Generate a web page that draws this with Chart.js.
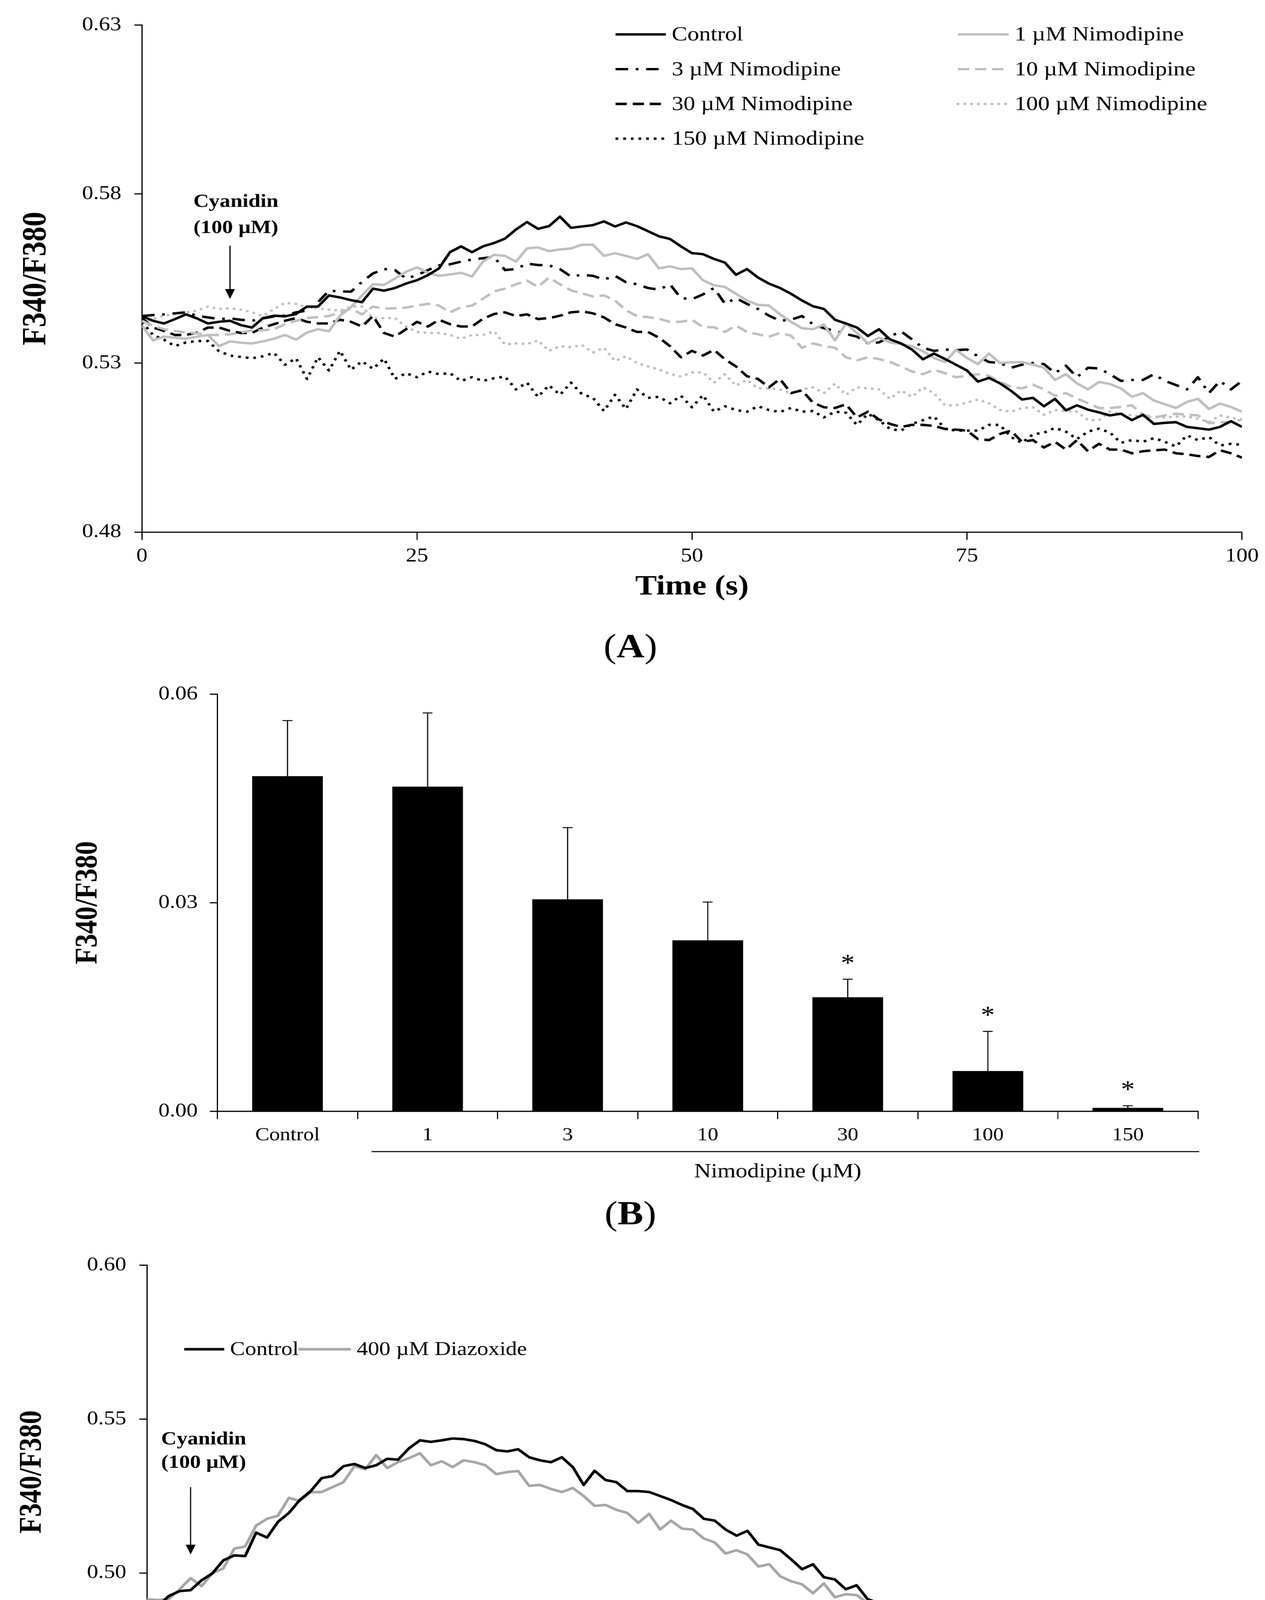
<!DOCTYPE html>
<html>
<head>
<meta charset="utf-8">
<script src="https://cdn.jsdelivr.net/npm/chart.js@4.4.1/dist/chart.umd.min.js"></script>
<style>
  html, body { margin: 0; padding: 0; background: #fff; }
  body { width: 3238px; height: 4792px; overflow: hidden; position: relative; }
  /* the original figure is stretched horizontally, so draw narrower and stretch */
  #wrap { position: absolute; left: 0; top: 0; width: 2816px; height: 4792px;
          transform: scaleX(1.15); transform-origin: 0 0; }
  canvas { position: absolute; left: 0; }
</style>
</head>
<body>
<div id="wrap">
  <canvas id="chartA" width="2816" height="1720" style="top:0px"></canvas>
  <canvas id="chartB" width="2816" height="1460" style="top:1720px"></canvas>
  <canvas id="chartC" width="2816" height="1612" style="top:3180px"></canvas>
</div>
<script>
// ---------- data : panel A (F340/F380 per second, 0..100 s) ----------
const timeA = Array.from({ length: 101 }, (_, i) => i);
const controlA = [
  .5439,.5425,.5417,.5430,.5444,.5432,.5417,.5422,.5425,.5412,
  .5405,.5433,.5440,.5438,.5445,.5467,.5467,.5500,.5494,.5486,
  .5480,.5520,.5514,.5522,.5535,.5545,.5560,.5580,.5628,.5645,
  .5628,.5645,.5655,.5668,.5695,.5717,.5697,.5705,.5733,.5700,
  .5704,.5708,.5719,.5704,.5716,.5705,.5690,.5675,.5667,.5645,
  .5625,.5622,.5608,.5597,.5561,.5578,.5553,.5535,.5522,.5505,
  .5485,.5468,.5460,.5428,.5417,.5405,.5380,.5400,.5370,.5358,
  .5340,.5311,.5328,.5312,.5295,.5278,.5245,.5256,.5240,.5218,
  .5192,.5197,.5172,.5194,.5160,.5175,.5162,.5154,.5145,.5150,
  .5131,.5147,.5120,.5123,.5125,.5111,.5107,.5103,.5111,.5128,.5111];
const nim1A = [
  .5411,.5367,.5378,.5375,.5372,.5378,.5383,.5350,.5364,.5360,
  .5358,.5364,.5372,.5383,.5369,.5390,.5400,.5394,.5440,.5465,
  .5500,.5533,.5531,.5550,.5570,.5583,.5567,.5558,.5562,.5567,
  .5556,.5600,.5620,.5617,.5600,.5639,.5642,.5631,.5636,.5639,
  .5650,.5650,.5617,.5625,.5617,.5608,.5622,.5580,.5586,.5578,
  .5580,.5545,.5530,.5525,.5505,.5485,.5472,.5470,.5444,.5422,
  .5403,.5400,.5414,.5367,.5417,.5389,.5358,.5375,.5361,.5356,
  .5350,.5335,.5315,.5303,.5339,.5315,.5297,.5328,.5300,.5302,
  .5303,.5295,.5286,.5250,.5267,.5240,.5222,.5244,.5238,.5225,
  .5200,.5211,.5189,.5178,.5167,.5185,.5194,.5164,.5180,.5170,.5156];
const nim3A = [
  .5439,.5442,.5444,.5447,.5450,.5440,.5435,.5430,.5432,.5428,
  .5425,.5432,.5438,.5440,.5450,.5455,.5480,.5514,.5512,.5511,
  .5540,.5565,.5578,.5575,.5550,.5560,.5575,.5589,.5592,.5600,
  .5606,.5610,.5614,.5575,.5578,.5594,.5590,.5589,.5578,.5556,
  .5561,.5558,.5547,.5558,.5539,.5533,.5522,.5517,.5533,.5492,
  .5489,.5503,.5522,.5475,.5492,.5475,.5460,.5440,.5425,.5428,
  .5439,.5415,.5403,.5395,.5386,.5378,.5358,.5361,.5378,.5394,
  .5370,.5345,.5336,.5340,.5338,.5340,.5320,.5303,.5300,.5286,
  .5295,.5300,.5297,.5270,.5292,.5258,.5286,.5284,.5267,.5247,
  .5250,.5250,.5267,.5247,.5235,.5222,.5258,.5211,.5247,.5222,.5247];
const nim10A = [
  .5425,.5410,.5400,.5395,.5390,.5388,.5383,.5383,.5385,.5390,
  .5397,.5397,.5400,.5415,.5425,.5433,.5436,.5439,.5450,.5461,
  .5444,.5467,.5461,.5462,.5464,.5470,.5475,.5470,.5450,.5465,
  .5470,.5490,.5512,.5520,.5533,.5544,.5525,.5553,.5533,.5515,
  .5506,.5497,.5500,.5485,.5456,.5439,.5436,.5431,.5422,.5422,
  .5428,.5406,.5406,.5392,.5411,.5392,.5385,.5378,.5389,.5381,
  .5345,.5358,.5350,.5345,.5317,.5308,.5317,.5312,.5303,.5290,
  .5275,.5267,.5280,.5270,.5258,.5262,.5267,.5262,.5244,.5230,
  .5225,.5236,.5222,.5203,.5211,.5195,.5181,.5167,.5167,.5170,
  .5175,.5147,.5139,.5145,.5150,.5147,.5145,.5122,.5125,.5125,.5133];
const nim30A = [
  .5433,.5405,.5395,.5383,.5383,.5390,.5405,.5405,.5395,.5389,
  .5389,.5405,.5415,.5425,.5433,.5422,.5417,.5417,.5428,.5422,
  .5408,.5439,.5389,.5378,.5400,.5422,.5408,.5428,.5415,.5408,
  .5408,.5431,.5445,.5450,.5439,.5444,.5430,.5433,.5440,.5450,
  .5453,.5447,.5435,.5415,.5405,.5392,.5392,.5375,.5350,.5317,
  .5336,.5322,.5339,.5311,.5290,.5261,.5253,.5228,.5253,.5211,
  .5219,.5183,.5169,.5167,.5178,.5139,.5156,.5133,.5120,.5111,
  .5117,.5117,.5114,.5105,.5103,.5100,.5075,.5072,.5090,.5100,
  .5067,.5072,.5050,.5067,.5044,.5072,.5039,.5061,.5044,.5044,
  .5033,.5039,.5042,.5044,.5033,.5030,.5025,.5022,.5042,.5033,.5020];
const nim100A = [
  .5422,.5430,.5440,.5445,.5450,.5455,.5467,.5460,.5462,.5458,
  .5450,.5439,.5460,.5478,.5475,.5465,.5461,.5458,.5455,.5467,
  .5467,.5433,.5433,.5433,.5408,.5392,.5389,.5389,.5383,.5372,
  .5383,.5383,.5394,.5355,.5358,.5356,.5367,.5336,.5350,.5347,
  .5353,.5331,.5345,.5306,.5320,.5300,.5290,.5281,.5268,.5260,
  .5272,.5272,.5242,.5267,.5233,.5250,.5225,.5225,.5222,.5211,
  .5222,.5228,.5211,.5239,.5206,.5228,.5225,.5222,.5194,.5219,
  .5200,.5228,.5211,.5175,.5175,.5183,.5192,.5181,.5161,.5156,
  .5167,.5169,.5147,.5161,.5158,.5156,.5131,.5131,.5156,.5150,
  .5145,.5142,.5139,.5139,.5142,.5142,.5135,.5125,.5145,.5138,.5133];
const nim150A = [
  .5422,.5383,.5369,.5350,.5361,.5365,.5365,.5335,.5322,.5318,
  .5314,.5320,.5330,.5295,.5314,.5253,.5317,.5278,.5336,.5280,
  .5305,.5283,.5313,.5253,.5270,.5258,.5275,.5267,.5270,.5247,
  .5258,.5247,.5255,.5260,.5222,.5242,.5200,.5234,.5206,.5242,
  .5208,.5197,.5158,.5206,.5164,.5222,.5197,.5200,.5181,.5203,
  .5169,.5205,.5156,.5172,.5161,.5156,.5172,.5161,.5155,.5167,
  .5156,.5158,.5139,.5156,.5153,.5117,.5150,.5131,.5105,.5100,
  .5120,.5131,.5142,.5106,.5100,.5100,.5100,.5117,.5117,.5081,
  .5064,.5089,.5094,.5108,.5097,.5075,.5097,.5106,.5094,.5064,
  .5072,.5067,.5078,.5067,.5053,.5086,.5072,.5081,.5056,.5061,.5058];

// ---------- data : panel B (peak response, mean and SEM) ----------
const doseLabels = ['Control', '1', '3', '10', '30', '100', '150'];
const peakMean = [0.0482, 0.0467, 0.0305, 0.0246, 0.0164, 0.0058, 0.0005];
const peakSem  = [0.0080, 0.0106, 0.0103, 0.0055, 0.0026, 0.0057, 0.0003];
const peakSig  = [false, false, false, false, true, true, true];

// ---------- data : panel C ----------
const timeC = Array.from({ length: 101 }, (_, i) => i);
const controlC = [
  0.4908,0.4892,0.4925,0.4941,0.4944,0.4976,0.4999,0.5041,0.5057,0.5055,
  0.5131,0.5115,0.5166,0.5195,0.5237,0.5266,0.5308,0.5315,0.5347,0.5354,
  0.5341,0.5350,0.5371,0.5368,0.5405,0.5431,0.5426,0.5431,0.5437,0.5435,
  0.5429,0.5418,0.5399,0.5395,0.5402,0.5376,0.5366,0.5360,0.5376,0.5344,
  0.5286,0.5332,0.5302,0.5295,0.5266,0.5266,0.5263,0.5250,0.5237,0.5221,
  0.5208,0.5176,0.5170,0.5141,0.5121,0.5137,0.5092,0.5083,0.5074,0.5044,
  0.5012,0.5028,0.4986,0.4979,0.4947,0.4960,0.4915,0.4902,0.4889,0.4879,
  0.4870,0.4854,0.4837,0.4829,0.4837,0.4825,0.4789,0.4792,0.4805,0.4797,
  0.4795,0.4788,0.4773,0.4770,0.4760,0.4744,0.4734,0.4725,0.4715,0.4741,
  0.4739,0.4741,0.4695,0.4726,0.4713,0.4712,0.4692,0.4689,0.4704];
const diazoxideC = [
  0.4915,0.4912,0.4915,0.4947,0.4983,0.4957,0.4999,0.5015,0.5079,0.5086,
  0.5154,0.5176,0.5186,0.5244,0.5234,0.5263,0.5263,0.5279,0.5295,0.5347,
  0.5337,0.5383,0.5341,0.5360,0.5373,0.5389,0.5350,0.5363,0.5344,0.5366,
  0.5360,0.5350,0.5321,0.5328,0.5331,0.5283,0.5286,0.5273,0.5263,0.5276,
  0.5250,0.5218,0.5221,0.5205,0.5195,0.5163,0.5192,0.5141,0.5170,0.5144,
  0.5141,0.5112,0.5099,0.5063,0.5074,0.5060,0.5021,0.5028,0.4989,0.4973,
  0.4963,0.4934,0.4966,0.4921,0.4931,0.4928,0.4902,0.4889,0.4883,0.4837,
  0.4876,0.4841,0.4825,0.4844,0.4818,0.4821,0.4773,0.4795,0.4763,0.4770,
  0.4773,0.4744,0.4741,0.4754,0.4728,0.4737,0.4721,0.4708,0.4731,0.4712,
  0.4715,0.4676,0.4699,0.4673,0.4695,0.4689,0.4657,0.4686,0.4676,0.4666,
  0.4631];

// ---------- ticks ----------
const timeTicks = [0, 25, 50, 75, 100];
const yTicksA = [0.48, 0.53, 0.58, 0.63];
const yTicksB = [0.00, 0.03, 0.06];
const yTicksC = [0.45, 0.50, 0.55, 0.60];

// ---------- helpers ----------
const SERIF = "'Liberation Serif', 'Times New Roman', serif";
const GREY_A = '#bfbfbf';
const GREY_C = '#a6a6a6';

function fnt(size, bold) {
  return (bold ? 'bold ' : '') + size + 'px ' + SERIF;
}

function text(ctx, s, x, y, f, align) {
  ctx.save();
  ctx.font = f;
  ctx.fillStyle = '#000';
  ctx.textAlign = align || 'center';
  ctx.textBaseline = 'middle';
  ctx.fillText(s, x, y);
  ctx.restore();
}

function yTitle(ctx, s, x, y, size) {
  ctx.save();
  ctx.translate(x, y);
  ctx.rotate(-Math.PI / 2);
  text(ctx, s, 0, 0, fnt(size, true));
  ctx.restore();
}

// "(A)" with a bold letter
function panelLabel(ctx, letter, x, y) {
  ctx.save();
  ctx.fillStyle = '#000';
  ctx.textBaseline = 'middle';
  ctx.textAlign = 'left';
  ctx.font = fnt(86, false);
  const wo = ctx.measureText('(').width;
  const wc = ctx.measureText(')').width;
  ctx.font = fnt(86, true);
  const wl = ctx.measureText(letter).width;
  let x0 = x - (wo + wl + wc) / 2;
  ctx.font = fnt(86, false);
  ctx.fillText('(', x0, y);
  ctx.font = fnt(86, true);
  ctx.fillText(letter, x0 + wo, y);
  ctx.font = fnt(86, false);
  ctx.fillText(')', x0 + wo + wl, y);
  ctx.restore();
}

function arrowDown(ctx, x, y0, y1) {
  ctx.save();
  ctx.strokeStyle = '#000';
  ctx.fillStyle = '#000';
  ctx.lineWidth = 2.6;
  ctx.beginPath();
  ctx.moveTo(x, y0);
  ctx.lineTo(x, y1 - 20);
  ctx.stroke();
  ctx.beginPath();
  ctx.moveTo(x - 11, y1 - 25);
  ctx.lineTo(x + 11, y1 - 25);
  ctx.lineTo(x, y1);
  ctx.closePath();
  ctx.fill();
  ctx.restore();
}

// cyanidin annotation, anchored on data coordinates
function cyanidin(chart, t, vTop, vBottom, dx, dy1, dy2) {
  const ctx = chart.ctx;
  const x = chart.scales.x.getPixelForValue(t);
  const yTop = chart.scales.y.getPixelForValue(vTop);
  const yBot = chart.scales.y.getPixelForValue(vBottom);
  arrowDown(ctx, x, yTop, yBot);
  text(ctx, 'Cyanidin', x + dx, yTop + dy1, fnt(48, true));
  text(ctx, '(100 \u00b5M)', x + dx, yTop + dy2, fnt(48, true));
}

function legendItem(ctx, ds, x0, x1, y, label, size) {
  ctx.save();
  ctx.strokeStyle = ds.borderColor;
  ctx.lineWidth = ds.borderWidth;
  ctx.setLineDash(ds.borderDash || []);
  ctx.lineCap = ds.borderCapStyle || 'butt';
  ctx.beginPath();
  ctx.moveTo(x0, y);
  ctx.lineTo(x1, y);
  ctx.stroke();
  ctx.restore();
  text(ctx, label, x1 + 13, y + 2, fnt(size, false), 'left');
}

function timeAxes(opt) {
  return {
    x: {
      type: 'linear', min: 0, max: 100,
      afterFit: s => { s.height = opt.xHeight; },
      afterBuildTicks: s => { s.ticks = timeTicks.map(v => ({ value: v })); },
      ticks: { font: { family: SERIF, size: 50 }, color: '#000', padding: 12,
               maxRotation: 0, autoSkip: false, callback: v => String(v) },
      grid: { drawOnChartArea: false, tickLength: 20, color: '#000', lineWidth: 2.6 },
      border: { color: '#000', width: 3 }
    },
    y: {
      type: 'linear', min: opt.min, max: opt.max,
      afterFit: s => { s.width = opt.yWidth; },
      afterBuildTicks: s => { s.ticks = opt.ticks.map(v => ({ value: v })); },
      ticks: { font: { family: SERIF, size: 50 }, color: '#000', padding: 29,
               callback: v => v.toFixed(2) },
      grid: { drawOnChartArea: false, tickLength: 17, color: '#000', lineWidth: 3 },
      border: { color: '#000', width: 2.6 }
    }
  };
}

function lineSet(label, data, color, width, dash, cap) {
  return {
    label: label, data: data,
    borderColor: color, borderWidth: width,
    borderDash: dash || [], borderCapStyle: cap || 'butt',
    borderJoinStyle: 'round',
    pointRadius: 0, tension: 0, fill: false
  };
}

const common = {
  responsive: false,
  devicePixelRatio: 1.15,
  animation: false,
  events: [],
  plugins: { legend: { display: false }, tooltip: { enabled: false } }
};

// ---------- panel A ----------
const dataA = [
  lineSet('Control', controlA, '#000', 6.2),
  lineSet('1 \u00b5M Nimodipine', nim1A, GREY_A, 6.2),
  lineSet('3 \u00b5M Nimodipine', nim3A, '#000', 6.2, [28, 17, 6, 17]),
  lineSet('10 \u00b5M Nimodipine', nim10A, GREY_A, 6.2, [25, 13]),
  lineSet('30 \u00b5M Nimodipine', nim30A, '#000', 6.2, [25, 13]),
  lineSet('100 \u00b5M Nimodipine', nim100A, GREY_A, 6.5, [0.1, 15], 'round'),
  lineSet('150 \u00b5M Nimodipine', nim150A, '#000', 6.2, [6, 11])
];

const legendA = [
  { ds: 0, col: 0, row: 0 }, { ds: 1, col: 1, row: 0 },
  { ds: 2, col: 0, row: 1 }, { ds: 3, col: 1, row: 1 },
  { ds: 4, col: 0, row: 2 }, { ds: 5, col: 1, row: 2 },
  { ds: 6, col: 0, row: 3 }
];

new Chart(document.getElementById('chartA'), {
  type: 'line',
  data: { labels: timeA, datasets: dataA },
  options: Object.assign({}, common, {
    layout: { padding: { left: 0, top: 64, right: 52, bottom: 0 } },
    scales: timeAxes({ min: 0.48, max: 0.63, ticks: yTicksA, yWidth: 316, xHeight: 358 })
  }),
  plugins: [{
    id: 'decorA',
    afterDraw(chart) {
      const ctx = chart.ctx;
      const area = chart.chartArea;
      yTitle(ctx, 'F340/F380', 81, (area.top + area.bottom) / 2, 76);
      text(ctx, 'Time (s)', (area.left + area.right) / 2, 1503, fnt(72, true));
      panelLabel(ctx, 'A', 1403, 1660);
      const cols = [[1370, 1482], [2132, 2245]];
      const rows = [88, 177, 266, 355];
      legendA.forEach(it => {
        const ds = chart.data.datasets[it.ds];
        legendItem(ctx, ds, cols[it.col][0], cols[it.col][1], rows[it.row], ds.label, 52);
      });
      cyanidin(chart, 8, 0.5647, 0.5490, 13, -112, -45);
    }
  }]
});

// ---------- panel B ----------
new Chart(document.getElementById('chartB'), {
  type: 'bar',
  data: {
    labels: doseLabels,
    datasets: [{ data: peakMean, backgroundColor: '#000', borderWidth: 0,
                 barPercentage: 0.505, categoryPercentage: 1 }]
  },
  options: Object.assign({}, common, {
    layout: { padding: { left: 0, top: 47, right: 150, bottom: 0 } },
    scales: {
      x: {
        type: 'category', offset: true,
        afterFit: s => { s.height = 335; },
        ticks: { font: { family: SERIF, size: 47 }, color: '#000', padding: 14, maxRotation: 0 },
        grid: { offset: true, drawOnChartArea: false, tickLength: 20, color: '#000', lineWidth: 2.4 },
        border: { color: '#000', width: 3 }
      },
      y: {
        type: 'linear', min: 0, max: 0.06,
        afterFit: s => { s.width = 484; },
        afterBuildTicks: s => { s.ticks = yTicksB.map(v => ({ value: v })); },
        ticks: { font: { family: SERIF, size: 50 }, color: '#000', padding: 27,
                 callback: v => v.toFixed(2) },
        grid: { drawOnChartArea: false, tickLength: 17, color: '#000', lineWidth: 3 },
        border: { color: '#000', width: 2.6 }
      }
    }
  }),
  plugins: [{
    id: 'decorB',
    afterDatasetsDraw(chart) {
      const ctx = chart.ctx;
      const ys = chart.scales.y;
      const meta = chart.getDatasetMeta(0);
      ctx.save();
      ctx.strokeStyle = '#000';
      ctx.lineWidth = 2.4;
      meta.data.forEach((bar, i) => {
        const yTop = ys.getPixelForValue(peakMean[i] + peakSem[i]);
        ctx.beginPath();
        ctx.moveTo(bar.x, bar.y);
        ctx.lineTo(bar.x, yTop);
        ctx.moveTo(bar.x - 11, yTop);
        ctx.lineTo(bar.x + 11, yTop);
        ctx.stroke();
        if (peakSig[i]) {
          ctx.save();
          ctx.font = fnt(62, false);
          ctx.fillStyle = '#000';
          ctx.textAlign = 'center';
          ctx.textBaseline = 'alphabetic';
          ctx.fillText('*', bar.x, yTop - 22);
          ctx.restore();
        }
      });
      ctx.restore();
    },
    afterDraw(chart) {
      const ctx = chart.ctx;
      const area = chart.chartArea;
      const xs = chart.scales.x;
      yTitle(ctx, 'F340/F380', 197, (area.top + area.bottom) / 2, 70);
      // bracket line under the nimodipine doses
      ctx.save();
      ctx.strokeStyle = '#000';
      ctx.lineWidth = 2.6;
      ctx.beginPath();
      ctx.moveTo(xs.getPixelForValue(0.6), 1228);
      ctx.lineTo(area.right + 3, 1228);
      ctx.stroke();
      ctx.restore();
      text(ctx, 'Nimodipine (\u00b5M)', xs.getPixelForValue(3.5), 1280, fnt(52, false));
      panelLabel(ctx, 'B', 1403, 1392);
    }
  }]
});

// ---------- panel C ----------
const dataC = [
  lineSet('Control', controlC, '#000', 6.5),
  lineSet('400 \u00b5M Diazoxide', diazoxideC, GREY_C, 6.5)
];

new Chart(document.getElementById('chartC'), {
  type: 'line',
  data: { labels: timeC, datasets: dataC },
  options: Object.assign({}, common, {
    layout: { padding: { left: 0, top: 54, right: 59, bottom: 0 } },
    scales: timeAxes({ min: 0.45, max: 0.60, ticks: yTicksC, yWidth: 327, xHeight: 372 })
  }),
  plugins: [{
    id: 'decorC',
    afterDraw(chart) {
      const ctx = chart.ctx;
      const area = chart.chartArea;
      yTitle(ctx, 'F340/F380', 72, 588, 70);
      text(ctx, 'Time (s)', (area.left + area.right) / 2, 1373, fnt(72, true));
      panelLabel(ctx, 'C', 1408, 1528);
      const ds = chart.data.datasets;
      legendItem(ctx, ds[0], 410, 499, 274, ds[0].label, 50);
      legendItem(ctx, ds[1], 664, 781, 274, ds[1].label, 50);
      cyanidin(chart, 4, 0.5279, 0.5060, 29, -122, -62);
    }
  }]
});
</script>
</body>
</html>
